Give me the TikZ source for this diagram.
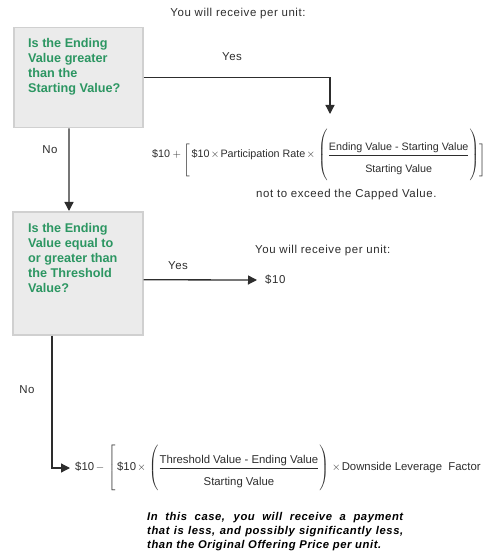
\documentclass[tikz,border=0pt]{standalone}
\usepackage{fontspec}
\setmainfont{Liberation Sans}
\newfontfamily\loosefont{Liberation Sans}[LetterSpace=5]
\usepackage{amsmath}
\usetikzlibrary{arrows, arrows.meta}
\usetikzlibrary{positioning, calc}
\usepackage{xcolor}
\definecolor{qgreen}{RGB}{44,150,98}
\definecolor{boxgray}{RGB}{235,235,235}
\definecolor{boxline}{RGB}{208,208,208}
\definecolor{inkgray}{RGB}{45,45,45}

\newcommand{\tms}{\mkern2mu{\times}\mkern2mu}

\tikzset{
  qbox/.style={draw=boxline, line width=1.5bp, fill=boxgray, minimum width=129bp, anchor=north west, inner sep=0pt},
  qtext/.style={text=qgreen, font=\fontsize{12.7}{15}\selectfont\bfseries, align=left, anchor=north west, inner sep=0pt},
  lbl/.style={text=inkgray, font=\loosefont\fontsize{11.5}{13}\selectfont, inner sep=0pt},
  formula/.style={text=inkgray, anchor=west, inner sep=0pt},
  flow/.style={->, line width=1.3bp, inkgray},
}

\begin{document}
\begin{tikzpicture}[>={Triangle[length=9bp,width=9bp]}, x=1bp, y=-1bp]
      \useasboundingbox (0,0) rectangle (485,556);

      % first question
      \node[qbox, minimum height=100bp] (q1) at (13,27) {};
      \node[qtext, below right=11bp and 15bp of q1.north west] (q1text) {Is the Ending\\Value greater\\than the\\Starting Value?};
      \node[lbl] (rec1) at (238,14) {You will receive per unit:};
      \node[lbl] (yes1) at (232,57) {Yes};
      \coordinate (yes1end) at (330,114);
      \draw[flow] (q1.east) -| (yes1end);

      \node[formula, font=\fontsize{10.8}{13}\selectfont] (f1) at (152,155) {$\text{\$10} + \mathopen{\raisebox{-5bp}{$\Biggl[$}}\,\text{\$10} \tms \text{Participation Rate} \tms \left(\vrule height 25bp depth 23bp width 0pt\dfrac{\text{Ending Value - Starting Value}}{\rule{0pt}{16bp}\text{Starting Value}}\right)\mathclose{\raisebox{-5bp}{$\Biggr]$}}$};
      \node[lbl, anchor=west] (cap) at (256,195) {not to exceed the Capped Value.};

      % second question
      \node[lbl] (no1) at (50,150) {No};
      \node[qbox, minimum height=123bp, minimum width=130bp] (q2) at (12,211) {};
      \node[qtext, below right=12bp and 16bp of q2.north west] (q2text) {Is the Ending\\Value equal to\\or greater than\\the Threshold\\Value?};
      \draw[flow] ([xshift=56bp]q1.south west) -- ([xshift=57bp]q2.north west);

      \node[lbl, anchor=west] (rec2) at (255,251) {You will receive per unit:};
      \node[lbl] (yes2) at (178,266) {Yes};
      \node[lbl, anchor=west] (ten) at (265,280) {\$10};
      \draw[flow] ([yshift=-6.5bp]q2.east) -- ([xshift=-8bp]ten.west);

      % downside
      \node[lbl] (no2) at (27,390) {No};
      \node[formula, font=\fontsize{11.4}{14}\selectfont] (f2) at (75,468) {$\text{\$10}\mkern3mu{-}\mkern3mu\left[\,\text{\$10}\tms\left(\vrule height 24bp depth 20bp width 0pt\dfrac{\text{Threshold Value - Ending Value}}{\rule{0pt}{16bp}\text{Starting Value}}\right)\tms\text{Downside Leverage\ \ Factor}\right.$};
      \draw[flow] ([xshift=40bp]q2.south west) |- ([xshift=-5bp]f2.west);

      \node[text=black, font=\loosefont\fontsize{11.3}{14}\selectfont\bfseries\itshape, text width=256bp, align=justify, anchor=north west, inner sep=0pt] (note) at (147,512) {In this case, you will receive a payment\linebreak that is less, and possibly significantly less,\linebreak than the Original Offering Price per unit.};
    \end{tikzpicture}
\end{document}
